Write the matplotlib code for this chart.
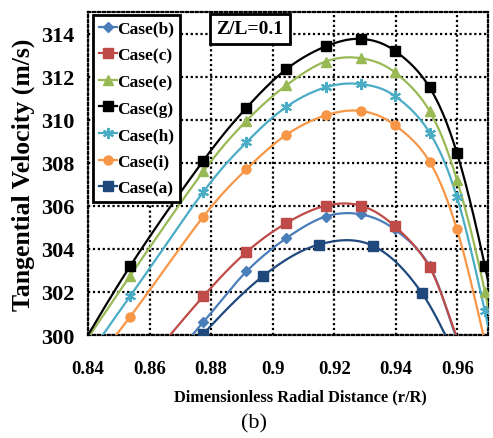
import numpy as np
import matplotlib.pyplot as plt

# r/R stations; first and last entries lie outside the plotted window
r_main = [0.830, 0.8537, 0.8775, 0.8915, 0.9045, 0.9172, 0.9288, 0.9397, 0.951, 0.9599, 0.969, 0.978]
r_b = [0.8537, 0.8775, 0.8915, 0.9045, 0.9172, 0.9288, 0.9397, 0.951, 0.9599]
r_a = [0.860, 0.8775, 0.897, 0.915, 0.9325, 0.9485, 0.964]

case_g = [297.6, 303.2, 308.1, 310.55, 312.35, 313.4, 313.75, 313.2, 311.5, 308.45, 303.2, 296.5]
case_e = [297.75, 302.75, 307.6, 309.95, 311.6, 312.7, 312.85, 312.2, 310.4, 307.2, 302.0, 295.0]
case_h = [297.0, 301.8, 306.65, 308.95, 310.6, 311.5, 311.65, 311.1, 309.4, 306.4, 301.1, 295.0]
case_i = [296.5, 300.85, 305.5, 307.7, 309.3, 310.2, 310.4, 309.75, 308.05, 304.9, 299.7, 294.0]
case_c = [297.8, 301.8, 303.85, 305.2, 306.0, 306.0, 305.05, 303.15, 299.9]
case_b = [296.6, 300.6, 302.95, 304.5, 305.5, 305.6, 304.9, 303.2, 299.8]
case_a = [297.0, 300.05, 302.75, 304.2, 304.15, 301.95, 297.7]

mark_main = slice(1, -1)
mark_b = slice(1, -1)
mark_a = slice(1, -1)


def smooth(x, y, n=30):
    # Catmull-Rom spline through the points, like a spreadsheet smoothed line
    p = np.column_stack([x, y]).astype(float)
    p = np.vstack([2 * p[0] - p[1], p, 2 * p[-1] - p[-2]])
    t = np.linspace(0, 1, n, endpoint=False)[:, None]
    out = []
    for i in range(1, len(p) - 2):
        p0, p1, p2, p3 = p[i - 1], p[i], p[i + 1], p[i + 2]
        seg = 0.5 * ((2 * p1) + (-p0 + p2) * t + (2 * p0 - 5 * p1 + 4 * p2 - p3) * t ** 2
                     + (-p0 + 3 * p1 - 3 * p2 + p3) * t ** 3)
        out.append(seg)
    out.append(p[-2][None, :])
    out = np.vstack(out)
    return out[:, 0], out[:, 1]


plt.rcParams['font.family'] = ['Liberation Serif', 'DejaVu Serif']

fig = plt.figure(figsize=(4.93, 4.39), dpi=100)
ax = fig.add_axes([0.1785, 0.2346, 0.8114, 0.7358])

asterisk = (6, 2, 0)
series = [
    ('Case(b)', r_b, case_b, mark_b, '#4A7EBB', 'D', 5.5, 1),
    ('Case(c)', r_b, case_c, mark_b, '#BE4B48', 's', 6.5, 1),
    ('Case(e)', r_main, case_e, mark_main, '#98B954', '^', 7, 1),
    ('Case(g)', r_main, case_g, mark_main, '#000000', 's', 6.5, 1),
    ('Case(h)', r_main, case_h, mark_main, '#4BACC6', asterisk, 8, 1.5),
    ('Case(i)', r_main, case_i, mark_main, '#F79646', 'o', 6.5, 1),
    ('Case(a)', r_a, case_a, mark_a, '#1F497D', 's', 6.5, 1),
]

for name, x, y, sl, col, mk, ms, mew in series:
    xs, ys = smooth(x, y)
    ax.plot(xs, ys, color=col, lw=1.6, zorder=3)
    ax.plot(np.array(x)[sl], np.array(y)[sl], ls='none', marker=mk, ms=ms, mew=mew,
            color=col, zorder=4)
    ax.plot([], [], color=col, lw=1.6, marker=mk, ms=ms, mew=mew, label=name)

ax.set_xlim(0.84, 0.97)
ax.set_ylim(300, 315)
ax.set_xticks([0.84, 0.86, 0.88, 0.9, 0.92, 0.94, 0.96])
ax.set_xticklabels(['0.84', '0.86', '0.88', '0.9', '0.92', '0.94', '0.96'])
ax.set_yticks(np.arange(300, 315, 2))
ax.grid(True, color='black', ls=(0, (1, 1.2)), lw=1.6)
for s in ax.spines.values():
    s.set_linestyle((0, (1, 1.2)))
    s.set_linewidth(1.6)
ax.tick_params(length=0)
ax.tick_params(axis='x', pad=18, labelsize=13.5)
ax.tick_params(axis='y', pad=10, labelsize=16)
for lab in ax.get_xticklabels() + ax.get_yticklabels():
    lab.set_fontweight('bold')

ax.set_ylabel('Tangential Velocity (m/s)', fontsize=18.5, fontweight='bold', labelpad=4)
ax.set_xlabel('Dimensionless Radial Distance (r/R)', fontsize=11.8, fontweight='bold')
ax.xaxis.set_label_coords(0.53, -0.166)
fig.text(0.515, 0.035, '(b)', fontsize=16, ha='center', va='center')

ax.text(0.507, 0.932, 'Z/L=0.1', transform=fig.transFigure, fontsize=14, fontweight='bold',
        ha='center', va='center',
        bbox=dict(boxstyle='square,pad=0.33', fc='white', ec='black', lw=2))

leg = ax.legend(loc='upper left', bbox_to_anchor=(0.0, 1.008), fancybox=False,
                edgecolor='black', framealpha=1, handlelength=1.0, handletextpad=0.0,
                borderpad=0.35, labelspacing=0.6, borderaxespad=0.3,
                prop={'weight': 'bold', 'size': 12.5})
leg.get_frame().set_linewidth(2)

fig.savefig('out.png', dpi=100)
